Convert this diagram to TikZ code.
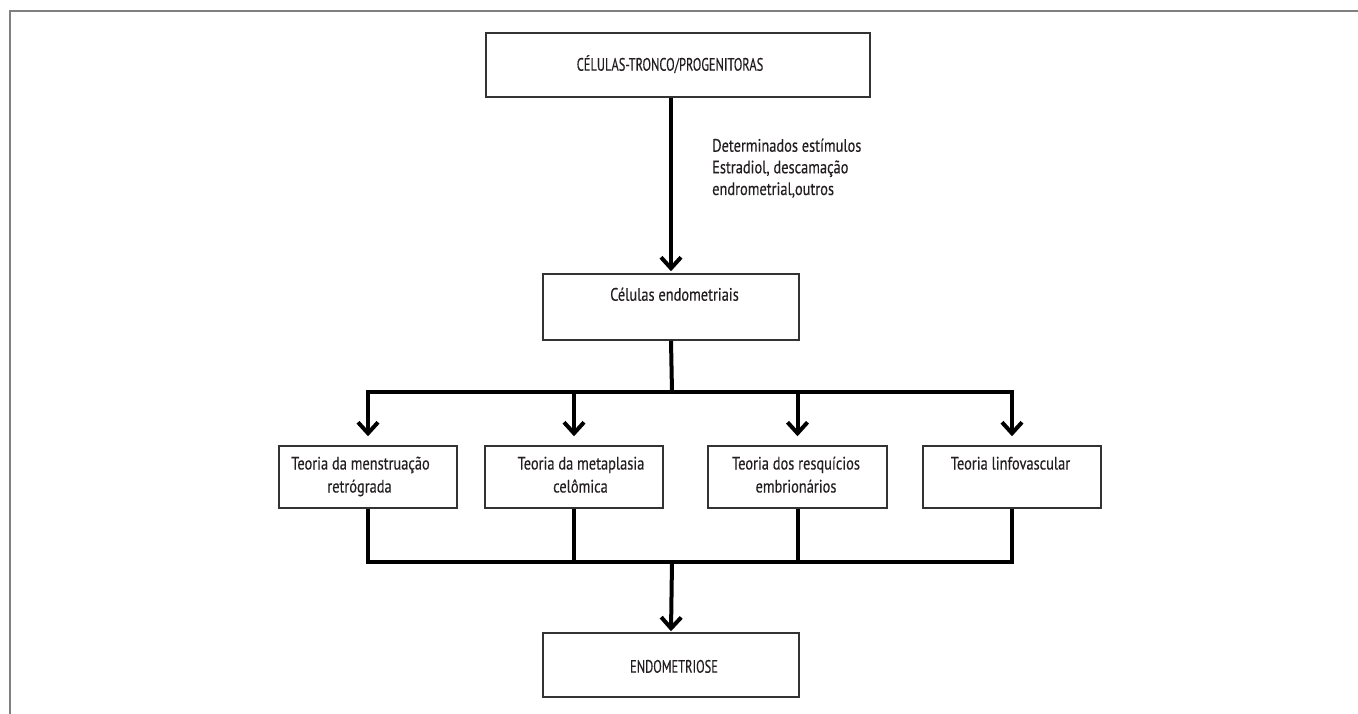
\documentclass[tikz,border=0pt]{standalone}
\usepackage{fontspec}
\setmainfont{PT Sans}[FakeStretch=0.8,FakeBold=0.3]
\newfontfamily\capsfont{PT Sans}[FakeStretch=0.69,FakeBold=0.3]
\usetikzlibrary{arrows.meta}
\definecolor{boxgray}{HTML}{333333}
\definecolor{framegray}{HTML}{808080}
\definecolor{textc}{HTML}{231F20}
\begin{document}
\begin{tikzpicture}[x=1pt,y=-1pt,
  box/.style={draw=boxgray, line width=1.5pt, inner sep=0pt, rectangle},
  txt/.style={inner sep=0pt, anchor=base, font=\fontsize{18}{22}\selectfont, text=textc},
  captxt/.style={inner sep=0pt, anchor=base, font=\capsfont\fontsize{18}{22}\selectfont, text=textc},
  lbl/.style={inner sep=0pt, anchor=base west, font=\fontsize{18}{22}\selectfont, text=textc},
  conn/.style={line width=4pt, black},
  tipend/.style={-{Straight Barb[length=11pt,width=20pt]}},
  tipboth/.style={{Straight Barb[length=11pt,width=20pt]}-{Straight Barb[length=11pt,width=20pt]}},
  framel/.style={draw=framegray, line width=2pt}
]
\useasboundingbox[fill=white] (0,0) rectangle (1358,714);
% frame
\draw[framel] (9.5,714) -- (9.5,10.7) -- (1358,10.7);

% boxes
\node[box, minimum width=384pt, minimum height=64pt] (top) at (678,65) {};
\node[box, minimum width=256pt, minimum height=66pt] (cel) at (671,307) {};
\node[box, minimum width=178pt, minimum height=62pt] (b1) at (368,477) {};
\node[box, minimum width=178pt, minimum height=62pt] (b2) at (574,477) {};
\node[box, minimum width=179pt, minimum height=62pt] (b3) at (797.5,477) {};
\node[box, minimum width=178pt, minimum height=62pt] (b4) at (1012,477) {};
\node[box, minimum width=256pt, minimum height=64pt] (endo) at (671,665) {};

% texts
\node[captxt] (ttop) at (670,70.7) {CÉLULAS-TRONCO/PROGENITORAS};
\node[txt] (tcel) at (674.5,300.7) {Células endometriais};
\node[txt] (t1a) at (360.5,469.5) {Teoria da menstruação};
\node[txt] (t1b) at (359.5,492.5) {retrógrada};
\node[txt] (t2a) at (581,469.5) {Teoria da metaplasia};
\node[txt] (t2b) at (580.5,492.5) {celômica};
\node[txt] (t3a) at (796,469.5) {Teoria dos resquícios};
\node[txt] (t3b) at (796,492.5) {embrionários};
\node[txt] (t4a) at (1010.5,469.5) {Teoria linfovascular};
\node[captxt] (tendo) at (674,672.7) {ENDOMETRIOSE};
\node[lbl] (l1) at (712,151.7) {Determinados estímulos};
\node[lbl] (l2) at (712,173.3) {Estradiol, descamação};
\node[lbl] (l3) at (712,195) {endrometrial,outros};

% coordinates of buses
\coordinate (busC) at (672,392);
\coordinate (bus2C) at (672,562);

% connectors
\draw[conn, tipend] (cel.north |- top.south) -- ([yshift=2pt]cel.north);
\draw[conn] (cel.south) -- (busC);
\draw[conn, tipboth] ([yshift=9pt]b1.north) -- (b1.north |- busC) -- (b4.north |- busC) -- ([yshift=9pt]b4.north);
\draw[conn, tipend] (b2.north |- busC) -- ([yshift=9pt]b2.north);
\draw[conn, tipend] (b3.north |- busC) -- ([yshift=9pt]b3.north);
\draw[conn] (b1.south) -- (b1.south |- bus2C) -- (b4.south |- bus2C) -- (b4.south);
\draw[conn] (b2.south) -- (b2.south |- bus2C);
\draw[conn] (b3.south) -- (b3.south |- bus2C);
\draw[conn, tipend] (bus2C) -- ([yshift=1pt]endo.north);
\end{tikzpicture}
\end{document}
